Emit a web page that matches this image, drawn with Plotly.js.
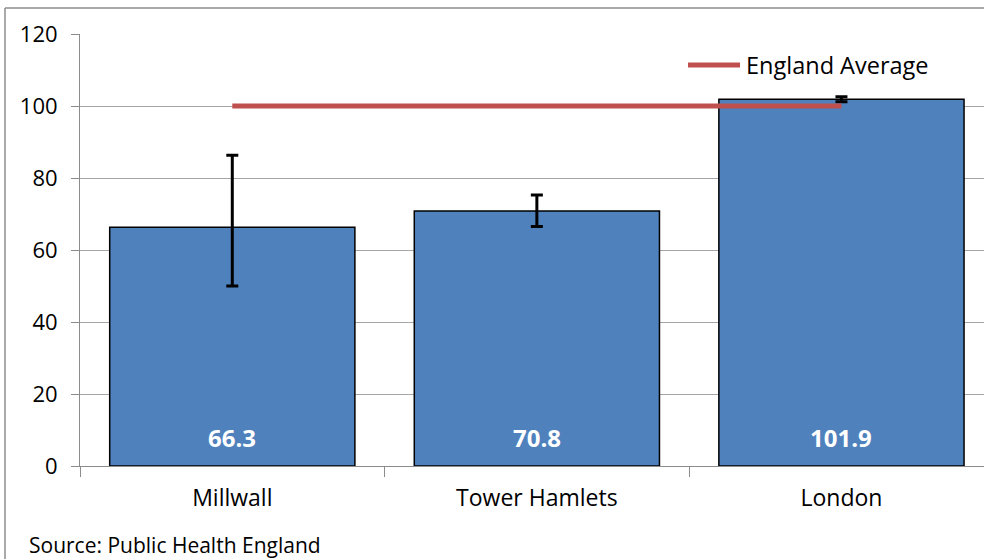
<!DOCTYPE html>
<html>
<head>
<meta charset="utf-8">
<script src="https://cdn.plot.ly/plotly-3.0.1.min.js"></script>
<style>html,body{margin:0;padding:0;background:#fff;}#chart{width:984px;height:559px;}</style>
</head>
<body>
<div id="chart"></div>
<script>
const categories = ["Millwall", "Tower Hamlets", "London"];
const values = [66.3, 70.8, 101.9];
const upperCI = [86.3, 75.3, 102.6];
const lowerCI = [50.0, 66.5, 101.2];
const englandAverage = [100, 100, 100];
const averageName = "England Average";
const yTicks = [0, 20, 40, 60, 80, 100, 120];
const sourceText = "Source: Public Health England";

const FONT = "'Open Sans', Lato, sans-serif";

const bars = {
  type: "bar",
  x: categories,
  y: values,
  width: 0.805,
  marker: {color: "#4F81BD", line: {color: "#000000", width: 1.5}},
  error_y: {
    type: "data", symmetric: false,
    array: values.map((v, i) => upperCI[i] - v),
    arrayminus: values.map((v, i) => v - lowerCI[i]),
    color: "#000000", thickness: 3, width: 6
  },
  hoverinfo: "x+y",
  showlegend: false
};

const avgLine = {
  type: "scatter", mode: "lines",
  x: categories, y: englandAverage,
  name: averageName,
  line: {color: "#C0504D", width: 5},
  showlegend: false
};

const annotations = categories.map((c, i) => ({
  x: c, y: 7.8, xref: "x", yref: "y",
  text: "<b>" + values[i].toFixed(1) + "</b>",
  showarrow: false,
  font: {family: FONT, size: 24, color: "#ffffff"}
}));
annotations.push({
  xref: "paper", yref: "paper", x: (744 - 80) / 904, y: (466 - 65) / 432,
  xanchor: "left", yanchor: "middle", text: averageName, showarrow: false,
  font: {family: FONT, size: 23.5, color: "#000000"}
});
annotations.push({
  xref: "paper", yref: "paper", x: (27 - 80) / 904, y: (466 - 545) / 432,
  xanchor: "left", yanchor: "middle", text: sourceText, showarrow: false,
  font: {family: FONT, size: 21, color: "#000000"}
});

const px = v => (v - 80) / 904;
const py = v => (466 - v) / 432;

const layout = {
  width: 984, height: 559,
  margin: {l: 80, r: 0, t: 34, b: 93, pad: 0},
  paper_bgcolor: "#ffffff", plot_bgcolor: "#ffffff",
  font: {family: FONT, size: 22, color: "#000000"},
  bargap: 0.2,
  xaxis: {
    type: "category",
    range: [-0.5, 2.468],
    showline: true, linecolor: "#8c8c8c", linewidth: 1,
    ticks: "outside", tickson: "boundaries", ticklen: 10, tickcolor: "#8c8c8c",
    ticklabelstandoff: 11,
    showgrid: false, zeroline: false,
    tickfont: {family: FONT, size: 23, color: "#000"}
  },
  yaxis: {
    range: [0, 120],
    tickvals: yTicks, ticktext: yTicks.map(String),
    showline: true, linecolor: "#8c8c8c", linewidth: 1,
    ticks: "outside", ticklen: 8, tickcolor: "#8c8c8c",
    ticklabelstandoff: 9,
    showgrid: true, gridcolor: "#a6a6a6", gridwidth: 1,
    zeroline: false,
    tickfont: {family: FONT, size: 22, color: "#000"}
  },
  shapes: [
    {type: "line", xref: "paper", yref: "paper", x0: px(688), x1: px(740), y0: py(65), y1: py(65),
     line: {color: "#C0504D", width: 5}},
    {type: "line", xref: "paper", yref: "paper", x0: px(5), x1: px(5), y0: py(8), y1: py(570),
     line: {color: "#8c8c8c", width: 1.5}},
    {type: "line", xref: "paper", yref: "paper", x0: px(5), x1: px(1000), y0: py(8), y1: py(8),
     line: {color: "#8c8c8c", width: 1.5}}
  ],
  annotations: annotations
};

Plotly.newPlot("chart", [bars, avgLine], layout, {displayModeBar: false, staticPlot: true});
</script>
</body>
</html>
